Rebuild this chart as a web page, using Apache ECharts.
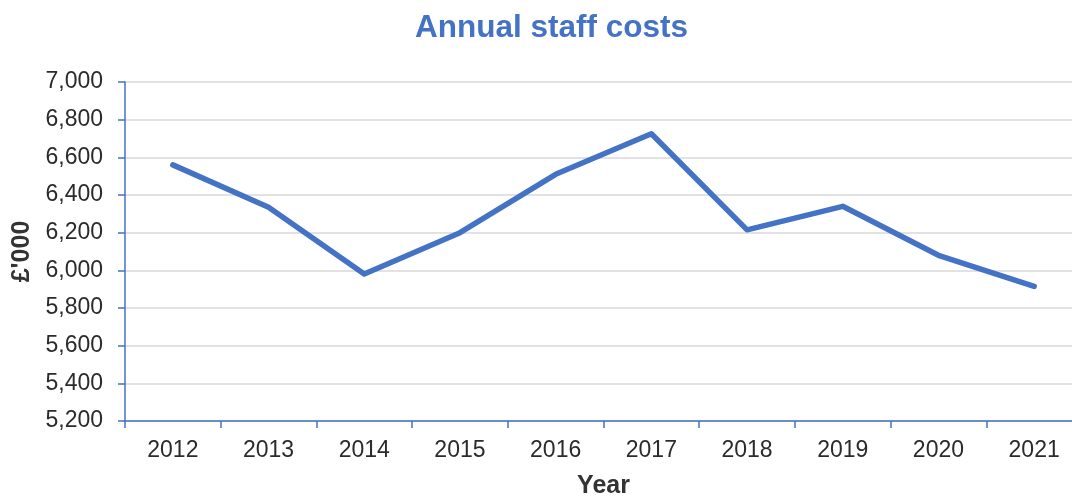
<!DOCTYPE html>
<html>
<head>
<meta charset="utf-8">
<script src="https://cdn.jsdelivr.net/npm/echarts@6/dist/echarts.min.js"></script>
<style>
html,body{margin:0;padding:0;background:#fff;}
#chart{width:1072px;height:500px;}
</style>
</head>
<body>
<div id="chart"></div>
<script>
const titleText = 'Annual staff costs';
const years = ['2012','2013','2014','2015','2016','2017','2018','2019','2020','2021'];
const staffCosts = [6560, 6335, 5980, 6200, 6510, 6725, 6215, 6340, 6080, 5915];
const yMin = 5200, yMax = 7000, yStep = 200;
const xName = 'Year';
const yName = "£'000";

const FONT = '"Liberation Sans", Arial, sans-serif';
const chart = echarts.init(document.getElementById('chart'), null, {renderer:'canvas'});
chart.setOption({
  animation: false,
  backgroundColor: '#ffffff',
  title: {
    text: titleText,
    left: 410,
    top: 7,
    textStyle: {fontFamily: FONT, fontSize: 31.5, fontWeight: 'bold', color: '#4472C4'}
  },
  grid: {left: 125, width: 957, top: 82, bottom: 79, containLabel: false, outerBoundsMode: 'none'},
  xAxis: {
    type: 'category',
    data: years,
    boundaryGap: true,
    name: xName,
    nameLocation: 'middle',
    nameGap: 53,
    nameTextStyle: {fontFamily: FONT, fontSize: 25, fontWeight: 'bold', color: '#333333'},
    axisLine: {lineStyle: {color: '#4472C4', width: 1.5}},
    axisTick: {show: true, alignWithLabel: false, length: 7, lineStyle: {color: '#4472C4', width: 1.5}},
    axisLabel: {fontFamily: FONT, fontSize: 23, color: '#2b2b2b', margin: 18},
    splitLine: {show: false}
  },
  yAxis: {
    type: 'value',
    min: yMin,
    max: yMax,
    interval: yStep,
    name: yName,
    nameLocation: 'middle',
    nameGap: 89,
    nameRotate: 90,
    nameTextStyle: {fontFamily: FONT, fontSize: 25, fontWeight: 'bold', color: '#333333'},
    axisLine: {show: true, lineStyle: {color: '#4472C4', width: 1.5}},
    axisTick: {show: true, length: 7, lineStyle: {color: '#4472C4', width: 1.5}},
    axisLabel: {
      fontFamily: FONT, fontSize: 23, color: '#2b2b2b', margin: 22,
      formatter: v => v.toLocaleString('en-US')
    },
    splitLine: {show: true, lineStyle: {color: '#d9d9d9', width: 1.5}}
  },
  series: [{
    type: 'line',
    data: staffCosts,
    symbol: 'none',
    lineStyle: {color: '#4472C4', width: 5.5, cap: 'round', join: 'round'},
    itemStyle: {color: '#4472C4'}
  }]
});
</script>
</body>
</html>
